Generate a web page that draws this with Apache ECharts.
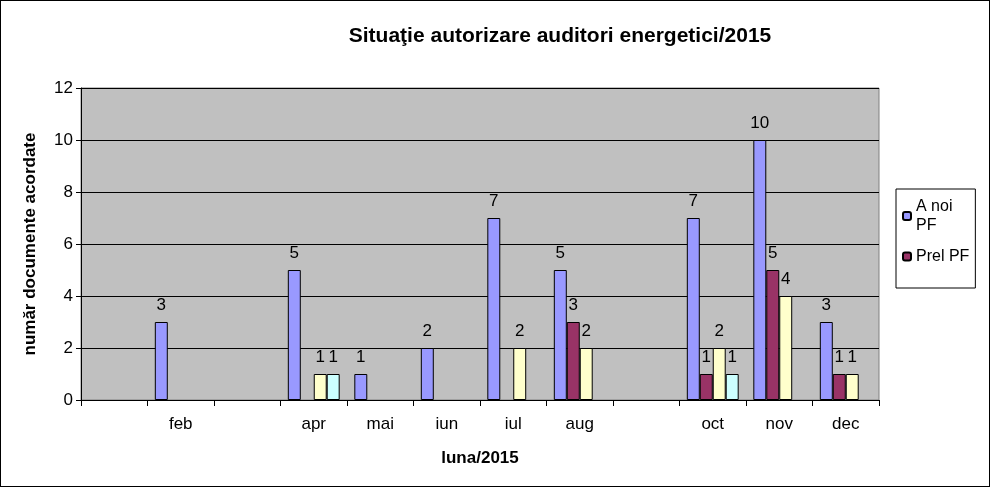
<!DOCTYPE html>
<html><head><meta charset="utf-8">
<script src="https://cdn.jsdelivr.net/npm/echarts@6/dist/echarts.min.js"></script>
<style>html,body{margin:0;padding:0;background:#fff}#c{width:990px;height:487px;box-sizing:border-box;border:1px solid #000}</style>
</head><body><div id="c"></div>
<script>
// months (empty labels where Excel left them blank)
const months = ['', 'feb', '', 'apr', 'mai', 'iun', 'iul', 'aug', '', 'oct', 'nov', 'dec'];
const aNoiPF = [null, 3, null, 5, 1, 2, 7, 5, null, 7, 10, 3];
const prelPF = [null, null, null, null, null, null, null, 3, null, 1, 5, 1];
const serie3 = [null, null, null, 1, null, null, 2, 2, null, 2, 4, 1];
const serie4 = [null, null, null, 1, null, null, null, null, null, 1, null, null];
const yTicks = { min: 0, max: 12, interval: 2 };

var chart = echarts.init(document.getElementById('c'));
const lbl = { show: true, position: 'top', distance: 8, color: '#000', fontSize: 17, fontFamily: 'Liberation Sans' };
const mk = (name, data, color) => ({
  name, type: 'bar', data, barGap: 0, barCategoryGap: '22%',
  itemStyle: { color, borderColor: '#000', borderWidth: 1 }, label: lbl
});
chart.setOption({
  textStyle: { fontFamily: 'Liberation Sans' },
  title: {
    text: 'Situaţie autorizare auditori energetici/2015', left: 554, top: 20, textAlign: 'center',
    textStyle: { fontSize: 21, fontWeight: 'bold', color: '#000' }
  },
  legend: {
    data: ['A noi PF', 'Prel PF'], orient: 'vertical', left: 895, top: 188,
    width: 88, height: 107, borderColor: '#000', borderWidth: 1, padding: [8, 6, 22, 6],
    itemWidth: 8, itemHeight: 8, itemGap: 12,
    formatter: n => n === 'A noi PF' ? 'A noi\nPF' : n,
    textStyle: { fontSize: 16, color: '#000', lineHeight: 19 }
  },
  grid: { left: 80, right: 110, top: 87, bottom: 86, show: true, backgroundColor: '#C0C0C0', borderColor: '#808080' },
  xAxis: {
    type: 'category', data: months, name: 'luna/2015', nameLocation: 'middle', nameGap: 50,
    nameTextStyle: { fontSize: 17, fontWeight: 'bold', color: '#000' },
    axisLine: { lineStyle: { color: '#000' } }, axisTick: { show: true, length: 6, lineStyle: { color: '#000' } },
    axisLabel: { color: '#000', fontSize: 17, margin: 16 }
  },
  yAxis: {
    type: 'value', ...yTicks, name: 'număr documente acordate', nameLocation: 'middle', nameGap: 42,
    nameTextStyle: { fontSize: 17, fontWeight: 'bold', color: '#000' },
    axisLine: { show: true, lineStyle: { color: '#000' } }, axisTick: { show: true, length: 5, lineStyle: { color: '#000' } },
    axisLabel: { color: '#000', fontSize: 17 },
    splitLine: { lineStyle: { color: '#000' } }
  },
  series: [
    mk('A noi PF', aNoiPF, '#9999FF'),
    mk('Prel PF', prelPF, '#993366'),
    mk('Serie 3', serie3, '#FFFFCC'),
    mk('Serie 4', serie4, '#CCFFFF')
  ]
});
</script></body></html>
